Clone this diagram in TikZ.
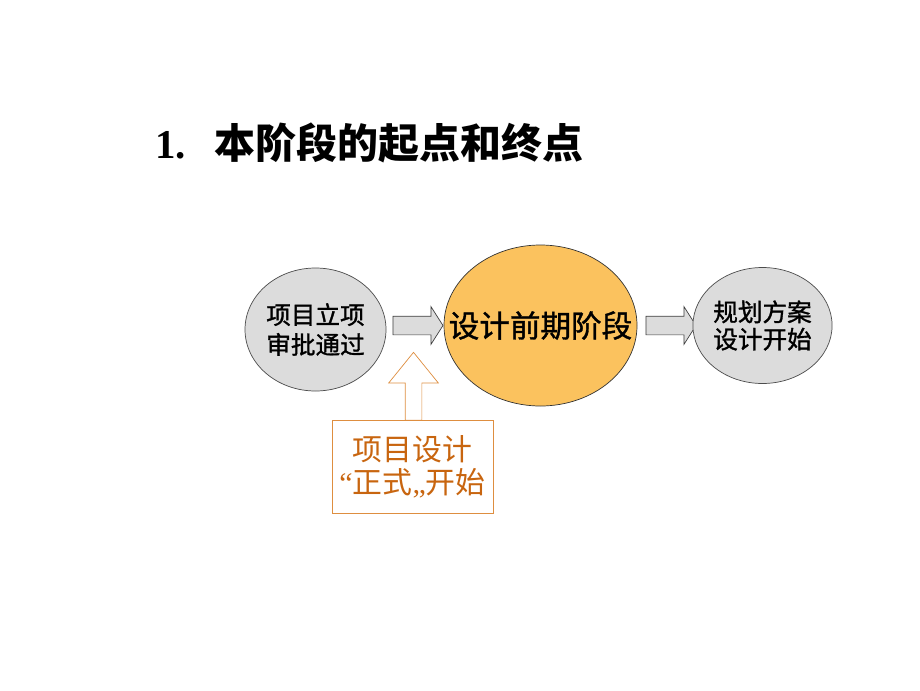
\documentclass[tikz,border=0pt]{standalone}
\usepackage{fontspec}
\usepackage{tikz}
\usetikzlibrary{positioning}
\usetikzlibrary{shapes.geometric, shapes.arrows}
\newfontfamily\cjk{Noto Sans CJK SC}
\newfontfamily\cjkmid[FakeBold=1.2]{Noto Sans CJK SC}
\newfontfamily\timesfont{Liberation Serif}
\definecolor{phasegray}{HTML}{DCDCDC}
\definecolor{phaseorange}{HTML}{FBC25E}
\definecolor{notetext}{HTML}{C8650F}
\definecolor{noteline}{HTML}{DE8E40}
\tikzset{
	grayphase/.style={draw=black!70, ellipse, inner sep=0pt, minimum width=2.82cm, minimum height=2.46cm, fill=phasegray, align=center, font=\cjkmid\fontsize{14}{17}\selectfont},
	bigphase/.style={draw=black!80, ellipse, inner xsep=-0.5cm, inner ysep=0pt, minimum width=3.86cm, minimum height=3.22cm, fill=phaseorange, font=\cjkmid\fontsize{17.4}{20}\selectfont},
	grayarrow/.style={draw=black!75, single arrow, fill=phasegray, inner xsep=0pt, inner ysep=0.18cm, minimum height=1cm, single arrow head extend=0.19cm, single arrow tip angle=115},
	% hollow arrow up to the first arrow
	uparrow/.style={draw=noteline, single arrow, fill=white, shape border rotate=90, inner ysep=0pt, inner xsep=0.16cm, minimum width=0.98cm, minimum height=1.36cm, single arrow head extend=0.33cm, single arrow tip angle=78},
	notebox/.style={draw=noteline, rectangle, inner sep=0pt, minimum width=3.22cm, minimum height=1.86cm, align=center, text=notetext, font=\cjk\fontsize{17}{19}\selectfont},
}

\begin{document}
\begin{tikzpicture}
	\useasboundingbox (0,0) rectangle (18.4,-13.8);
	
	\node (title) [anchor=west] at (2.98,-2.86) {{\timesfont\bfseries\fontsize{23.3}{26}\selectfont 1.}\hspace{16.5pt}{\cjk\bfseries\fontsize{23.3}{26}\selectfont 本阶段的起点和终点}};
	
	\node (design) [bigphase] at (10.81,-6.51) {设计前期阶段};
	\node (arr1) [grayarrow, left of=design, xshift=-1.51cm] {};
	\node (start) [grayphase, left of=arr1, xshift=-0.99cm, yshift=-0.08cm] {项目立项\\审批通过};
	\node (arr2) [grayarrow, right of=design, xshift=1.55cm] {};
	\node (finish) [grayphase, right of=arr2, xshift=0.89cm, minimum width=2.58cm, minimum height=2.32cm, font=\cjkmid\fontsize{14}{15.5}\selectfont] {规划方案\\设计开始};
	
	\node (up) [uparrow, below of=arr1, xshift=-0.03cm, yshift=-0.32cm] {};
	\node (note) [notebox, below of=up, xshift=-0.02cm, yshift=-0.51cm] {项目设计\\{\timesfont “}正式{\timesfont „}开始};
	
\end{tikzpicture}
\end{document}
